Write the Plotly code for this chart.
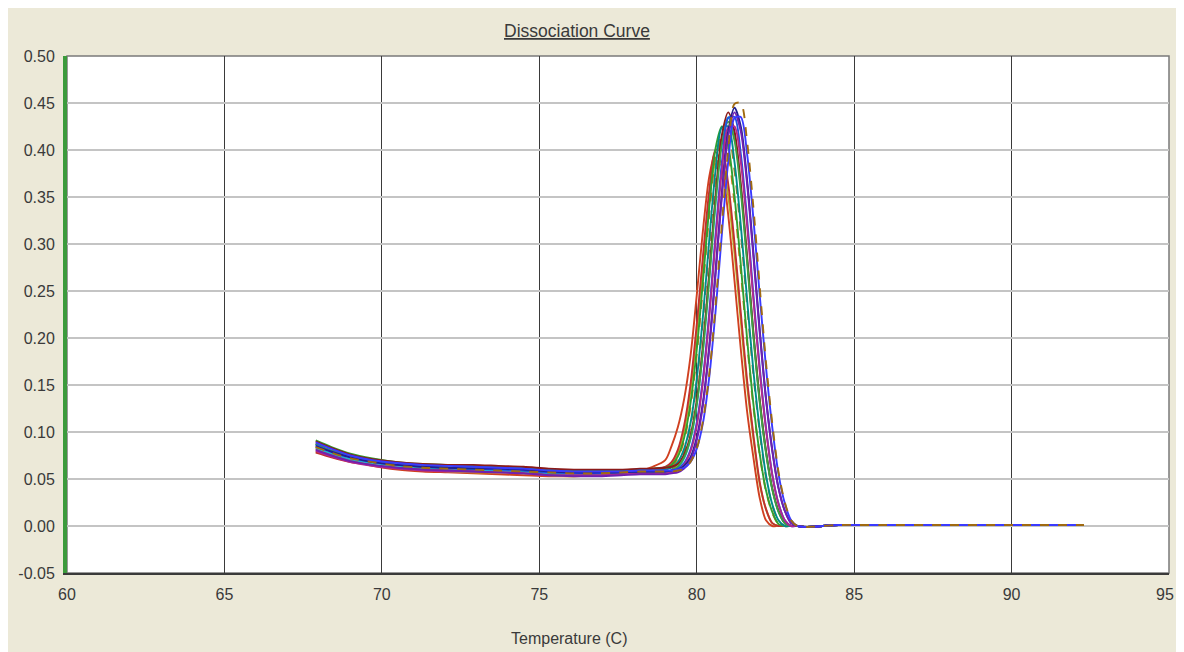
import plotly.graph_objects as go

# Temperature sample points (deg C)
TEMPS = [67.9, 68.4, 69.0, 69.7, 70.5, 71.3, 72.1, 72.9, 73.7, 74.5, 75.3, 76.1, 76.9, 77.6, 78.2, 78.6,
         79.0, 79.2, 79.4, 79.6, 79.8, 80.0, 80.2, 80.4, 80.6, 80.8, 81.0, 81.2, 81.4, 81.6, 81.8,
         82.0, 82.2, 82.4, 82.6, 82.8, 83.0, 83.2,
         83.5, 84.5, 86.0, 88.0, 90.0, 92.3]

TAIL = [-0.001, 0.001, 0.001, 0.001, 0.001, 0.001]

# -dF/dT per well: pre-melt baseline + melt peak + flat tail
C01 = [0.082, 0.076, 0.070, 0.064, 0.060, 0.058, 0.057, 0.056, 0.055, 0.054, 0.053, 0.053, 0.054, 0.056, 0.059, 0.063] + \
      [0.070, 0.085, 0.105, 0.135, 0.180, 0.245, 0.315, 0.372, 0.398, 0.382, 0.331, 0.261, 0.188, 0.122, 0.073, 0.030, 0.006, 0.000, 0.000, 0.000, 0.000, 0.000] + TAIL
C02 = [0.079, 0.074, 0.069, 0.065, 0.062, 0.060, 0.058, 0.057, 0.057, 0.056, 0.054, 0.053, 0.054, 0.055, 0.057, 0.058] + \
      [0.060, 0.066, 0.078, 0.102, 0.144, 0.205, 0.277, 0.344, 0.385, 0.385, 0.351, 0.290, 0.218, 0.149, 0.093, 0.045, 0.018, 0.003, 0.000, 0.000, 0.000, 0.000] + TAIL
C03 = [0.088, 0.081, 0.075, 0.070, 0.066, 0.064, 0.063, 0.062, 0.061, 0.059, 0.057, 0.056, 0.056, 0.057, 0.058, 0.059] + \
      [0.060, 0.063, 0.072, 0.091, 0.126, 0.182, 0.255, 0.332, 0.392, 0.415, 0.396, 0.343, 0.271, 0.195, 0.127, 0.076, 0.037, 0.014, 0.002, 0.000, 0.000, 0.000] + TAIL
C04 = [0.091, 0.084, 0.077, 0.072, 0.068, 0.066, 0.065, 0.064, 0.063, 0.062, 0.060, 0.059, 0.059, 0.059, 0.060, 0.061] + \
      [0.062, 0.065, 0.074, 0.094, 0.130, 0.187, 0.261, 0.340, 0.402, 0.425, 0.405, 0.351, 0.278, 0.199, 0.130, 0.077, 0.038, 0.015, 0.002, 0.000, 0.000, 0.000] + TAIL
C05 = [0.084, 0.078, 0.072, 0.067, 0.063, 0.062, 0.061, 0.061, 0.060, 0.058, 0.056, 0.055, 0.055, 0.056, 0.057, 0.057] + \
      [0.058, 0.060, 0.066, 0.079, 0.106, 0.152, 0.219, 0.297, 0.370, 0.414, 0.415, 0.378, 0.312, 0.235, 0.161, 0.100, 0.052, 0.022, 0.005, 0.000, 0.000, 0.000] + TAIL
C06 = [0.087, 0.080, 0.074, 0.069, 0.065, 0.063, 0.062, 0.061, 0.060, 0.059, 0.058, 0.057, 0.057, 0.058, 0.059, 0.059] + \
      [0.060, 0.062, 0.068, 0.082, 0.109, 0.156, 0.224, 0.305, 0.379, 0.424, 0.425, 0.387, 0.320, 0.241, 0.165, 0.103, 0.054, 0.023, 0.006, 0.000, 0.000, 0.000] + TAIL
C07 = [0.083, 0.077, 0.071, 0.067, 0.064, 0.062, 0.061, 0.060, 0.059, 0.058, 0.056, 0.055, 0.055, 0.056, 0.057, 0.057] + \
      [0.058, 0.059, 0.062, 0.072, 0.092, 0.129, 0.188, 0.266, 0.347, 0.411, 0.435, 0.415, 0.360, 0.284, 0.204, 0.133, 0.079, 0.039, 0.015, 0.003, 0.000, 0.000] + TAIL
C08 = [0.090, 0.083, 0.076, 0.071, 0.068, 0.066, 0.065, 0.065, 0.064, 0.063, 0.061, 0.060, 0.060, 0.060, 0.061, 0.061] + \
      [0.062, 0.063, 0.066, 0.076, 0.096, 0.133, 0.193, 0.270, 0.352, 0.416, 0.440, 0.420, 0.364, 0.287, 0.206, 0.135, 0.080, 0.040, 0.016, 0.003, 0.000, 0.000] + TAIL
C09 = [0.087, 0.080, 0.074, 0.069, 0.065, 0.063, 0.062, 0.062, 0.061, 0.059, 0.057, 0.056, 0.056, 0.057, 0.058, 0.058] + \
      [0.058, 0.059, 0.063, 0.073, 0.093, 0.129, 0.187, 0.263, 0.344, 0.406, 0.430, 0.410, 0.356, 0.281, 0.202, 0.132, 0.078, 0.039, 0.015, 0.003, 0.000, 0.000] + TAIL
C10 = [0.086, 0.079, 0.073, 0.068, 0.065, 0.063, 0.062, 0.061, 0.060, 0.059, 0.057, 0.056, 0.056, 0.057, 0.058, 0.058] + \
      [0.058, 0.059, 0.061, 0.067, 0.081, 0.110, 0.158, 0.228, 0.311, 0.387, 0.434, 0.435, 0.396, 0.327, 0.246, 0.169, 0.105, 0.055, 0.024, 0.006, 0.000, 0.000] + TAIL
C11 = [0.080, 0.074, 0.068, 0.064, 0.061, 0.059, 0.058, 0.058, 0.057, 0.056, 0.054, 0.054, 0.054, 0.055, 0.056, 0.056] + \
      [0.056, 0.057, 0.059, 0.065, 0.079, 0.106, 0.154, 0.222, 0.304, 0.378, 0.424, 0.425, 0.387, 0.320, 0.241, 0.165, 0.103, 0.054, 0.023, 0.006, 0.000, 0.000] + TAIL
C12 = [0.085, 0.079, 0.073, 0.068, 0.065, 0.063, 0.062, 0.061, 0.061, 0.060, 0.058, 0.057, 0.057, 0.057, 0.058, 0.058] + \
      [0.058, 0.059, 0.060, 0.064, 0.073, 0.094, 0.132, 0.192, 0.272, 0.355, 0.420, 0.445, 0.425, 0.368, 0.291, 0.209, 0.136, 0.081, 0.040, 0.016, 0.003, 0.000] + TAIL
C13 = [0.081, 0.075, 0.069, 0.065, 0.062, 0.060, 0.059, 0.058, 0.057, 0.056, 0.054, 0.053, 0.053, 0.054, 0.055, 0.055] + \
      [0.055, 0.056, 0.057, 0.061, 0.070, 0.091, 0.129, 0.189, 0.268, 0.351, 0.415, 0.440, 0.420, 0.364, 0.287, 0.206, 0.135, 0.080, 0.040, 0.016, 0.003, 0.000] + TAIL
C14 = [0.078, 0.073, 0.068, 0.065, 0.062, 0.061, 0.060, 0.059, 0.058, 0.057, 0.055, 0.055, 0.056, 0.057, 0.059, 0.061] + \
      [0.063, 0.068, 0.081, 0.107, 0.150, 0.214, 0.288, 0.357, 0.400, 0.400, 0.364, 0.301, 0.227, 0.155, 0.097, 0.047, 0.018, 0.003, 0.000, 0.000, 0.000, 0.000] + TAIL
C15 = [0.089, 0.082, 0.075, 0.070, 0.067, 0.065, 0.064, 0.063, 0.062, 0.061, 0.059, 0.058, 0.058, 0.058, 0.059, 0.059] + \
      [0.059, 0.059, 0.060, 0.062, 0.068, 0.082, 0.110, 0.159, 0.229, 0.311, 0.387, 0.434, 0.435, 0.396, 0.327, 0.246, 0.169, 0.105, 0.055, 0.024, 0.006, 0.000] + TAIL
C16 = [0.084, 0.078, 0.072, 0.068, 0.064, 0.062, 0.061, 0.060, 0.059, 0.058, 0.057, 0.056, 0.056, 0.057, 0.058, 0.058] + \
      [0.058, 0.058, 0.059, 0.061, 0.068, 0.082, 0.112, 0.162, 0.235, 0.321, 0.400, 0.449, 0.450, 0.409, 0.339, 0.255, 0.174, 0.109, 0.057, 0.025, 0.006, 0.000] + TAIL

CURVES = [C01, C02, C03, C14, C04, C05, C06, C07, C08, C09, C10, C11, C12, C13, C15, C16]
COLORS = ["#d04020", "#b8b020", "#d07010", "#c03030", "#30a030", "#a08020", "#008b8b", "#20b0d0",
          "#8b1a1a", "#40a040", "#2050e0", "#b02890", "#202090", "#7020b0", "#3a3aff", "#a06a10"]
DASHES = ["solid", "solid", "dash", "solid", "solid", "dash", "solid", "solid",
          "solid", "solid", "solid", "solid", "solid", "solid", "solid", "dash"]

X_TICKS = [60, 65, 70, 75, 80, 85, 90, 95]
X_LABELS = ["60", "65", "70", "75", "80", "85", "90", "95"]
Y_TICKS = [-0.05, 0.00, 0.05, 0.10, 0.15, 0.20, 0.25, 0.30, 0.35, 0.40, 0.45, 0.50]
Y_LABELS = ["-0.05", "0.00", "0.05", "0.10", "0.15", "0.20", "0.25", "0.30", "0.35", "0.40", "0.45", "0.50"]

FONT = "Liberation Sans, Arial, sans-serif"
TXT = "#3a3a3a"

fig = go.Figure()
for ys, col, dsh in zip(CURVES, COLORS, DASHES):
    fig.add_trace(go.Scatter(x=TEMPS, y=ys, mode="lines",
                             line=dict(color=col, width=1.9, shape="spline", smoothing=0.8, dash=dsh),
                             hoverinfo="skip", showlegend=False))

# plot frame (top / right)
fig.add_shape(type="rect", xref="paper", yref="paper", x0=0, y0=0, x1=1, y1=1,
              line=dict(color="#7a7a7a", width=1.5), layer="below")

# last x tick label sits at the very edge of the page: draw it right-anchored so it stays visible
edge_label = dict(text=X_LABELS[-1], xref="x", yref="paper", x=X_TICKS[-1], y=0,
                  xanchor="right", yanchor="middle", xshift=7, yshift=-21,
                  showarrow=False, font=dict(family=FONT, size=16, color=TXT))

# page body has an 8px margin, so the figure is drawn from (8, 8)
fig.update_layout(
    width=1168, height=644,
    margin=dict(l=59, r=7, t=48, b=79, autoexpand=False),
    paper_bgcolor="#ECE9D8",
    plot_bgcolor="#FFFFFF",
    font=dict(family=FONT, size=16, color=TXT),
    showlegend=False,
    xaxis=dict(range=[60, 95], tickvals=X_TICKS, ticktext=X_LABELS[:-1] + [""],
               showgrid=True, gridcolor="#3a3a3a", gridwidth=1.2,
               showline=True, linecolor="#3a3a3a", linewidth=1.5,
               zeroline=False, ticks="", ticklabelstandoff=6, automargin=False,
               ticklabeloverflow="allow",
               tickfont=dict(family=FONT, size=16, color=TXT)),
    yaxis=dict(range=[-0.05, 0.50], tickvals=Y_TICKS, ticktext=Y_LABELS,
               showgrid=True, gridcolor="#c4c4c4", gridwidth=1.5,
               showline=True, linecolor="#3c9a3c", linewidth=4,
               zeroline=False, ticks="", ticklabelstandoff=5, automargin=False,
               ticklabeloverflow="allow",
               tickfont=dict(family=FONT, size=16, color=TXT)),
    annotations=[
        dict(text="<u>Dissociation Curve</u>", xref="paper", yref="paper",
             x=(577 - 67) / 1102, y=1, yshift=25, yanchor="middle", xanchor="center",
             showarrow=False, font=dict(family=FONT, size=17.5, color=TXT)),
        dict(text="Temperature (C)", xref="paper", yref="paper",
             x=(569 - 67) / 1102, y=0, yshift=-65, yanchor="middle", xanchor="center",
             showarrow=False, font=dict(family=FONT, size=16, color=TXT)),
        edge_label,
    ],
)

fig.write_html("out.html")
